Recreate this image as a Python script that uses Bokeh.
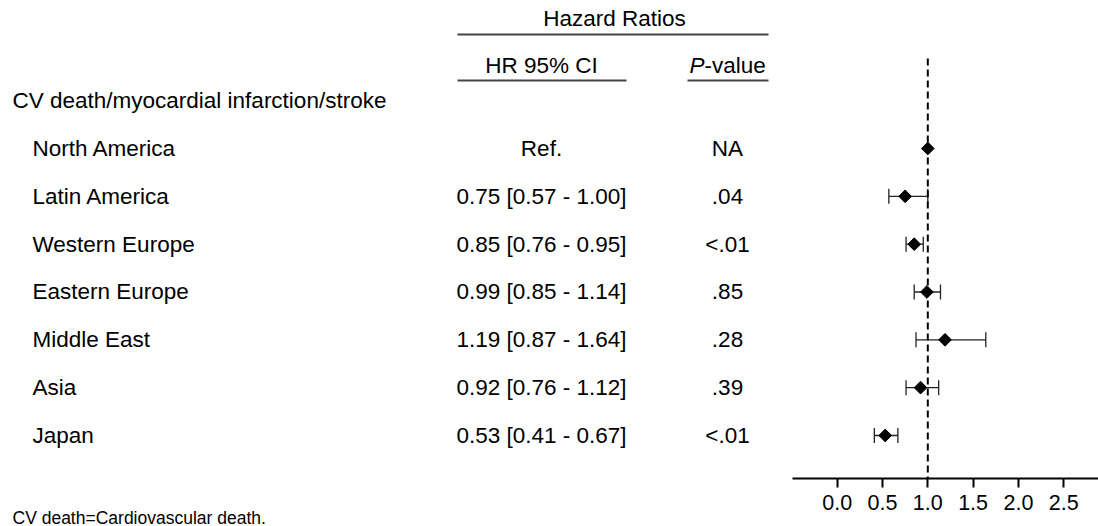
import numpy as np
from bokeh.plotting import figure
from bokeh.models import ColumnDataSource, Range1d, FixedTicker, Whisker, TeeHead
from bokeh.layouts import row
from bokeh.core.properties import value
from bokeh.embed import file_html
from bokeh.resources import INLINE

# ---------------- data ----------------
outcome = "CV death/myocardial infarction/stroke"
regions = ["North America", "Latin America", "Western Europe", "Eastern Europe",
           "Middle East", "Asia", "Japan"]
hr = [1.00, 0.75, 0.85, 0.99, 1.19, 0.92, 0.53]
ci_low = [None, 0.57, 0.76, 0.85, 0.87, 0.76, 0.41]
ci_high = [None, 1.00, 0.95, 1.14, 1.64, 1.12, 0.67]
p_values = ["NA", ".04", "<.01", ".85", ".28", ".39", "<.01"]
tick_values = [0.0, 0.5, 1.0, 1.5, 2.0, 2.5]
tick_labels = ["0.0", "0.5", "1.0", "1.5", "2.0", "2.5"]
footnote = "CV death=Cardiovascular death."

# ---------------- layout constants ----------------
FONT = value("Liberation Sans")
FS = "22.5px"
H = 526
ROW_PX = 47.83          # vertical distance between rows
FIRST_ROW_PX = 148      # pixel (from figure top) of first region row
AXIS_BOTTOM = 48        # space below plot frame of forest panel
LEFT_W = 792
RIGHT_W = 306

def y_at(px):
    """row-index coordinate for a pixel distance from figure top"""
    return 1 + (px - FIRST_ROW_PX) / ROW_PX

rows = list(range(1, len(regions) + 1))
hr_text = ["Ref." if lo is None else f"{h:.2f} [{lo:.2f} - {hi:.2f}]"
           for h, lo, hi in zip(hr, ci_low, ci_high)]

def no_align(fig):
    try:
        fig.frame_align = False
    except Exception:
        pass

# ---------------- left (table) panel ----------------
left = figure(width=LEFT_W, height=H, output_backend="svg", toolbar_location=None,
              x_range=Range1d(0, LEFT_W), y_range=Range1d(y_at(H), y_at(0)),
              min_border=0)
no_align(left)
left.axis.visible = False
left.grid.visible = False
left.outline_line_color = None
left.background_fill_color = None
left.border_fill_color = None

def put(x, y, t, align, size=FS, style="normal"):
    left.text(x=x, y=y, text=t, text_font=FONT, text_font_size=size,
              text_font_style=style, text_baseline="middle", text_align=align,
              text_color="#000000")

put([12], [y_at(100)], [outcome], "left")
put([32] * len(regions), rows, regions, "left")
put([541] * len(rows), rows, hr_text, "center")
put([727] * len(rows), rows, p_values, "center")

# headers
put([614], [y_at(18)], ["Hazard Ratios"], "center")
put([541], [y_at(65)], ["HR 95% CI"], "center")
put([704], [y_at(65)], ["P"], "right", style="italic")
put([704], [y_at(65)], ["-value"], "left")
left.segment(x0=[457, 457, 687], x1=[768, 626, 768],
             y0=[y_at(34), y_at(80), y_at(80)], y1=[y_at(34), y_at(80), y_at(80)],
             line_color="#444444", line_width=2)

put([12], [y_at(517)], [footnote], "left", size="17.5px")

# ---------------- right (forest) panel ----------------
px_per_unit = 90.6
x0_px = 836.7 - LEFT_W   # pixel of x=0 inside the panel
right = figure(width=RIGHT_W, height=H, output_backend="svg", toolbar_location=None,
               x_range=Range1d(-x0_px / px_per_unit, (RIGHT_W - x0_px) / px_per_unit),
               y_range=Range1d(y_at(H - AXIS_BOTTOM), y_at(0)),
               min_border_left=0, min_border_right=0, min_border_top=0,
               min_border_bottom=AXIS_BOTTOM)
no_align(right)
right.yaxis.visible = False
right.grid.visible = False
right.outline_line_color = None
right.background_fill_color = None
right.border_fill_color = None

xa = right.xaxis[0]
xa.ticker = FixedTicker(ticks=tick_values)
xa.major_label_overrides = {t: l for t, l in zip(tick_values, tick_labels)}
xa.axis_line_width = 2
xa.axis_line_color = "#000000"
xa.major_tick_line_width = 2
xa.major_tick_line_color = "#000000"
xa.major_tick_out = 9
xa.major_tick_in = 0
xa.minor_tick_line_color = None
xa.major_label_text_font = "Liberation Sans"
xa.major_label_text_font_size = "21.5px"
xa.major_label_text_color = "#000000"
xa.major_label_standoff = 7

# reference line at HR = 1
right.segment(x0=[1.0], x1=[1.0], y0=[y_at(58)], y1=[y_at(H - AXIS_BOTTOM)],
              line_color="#000000", line_width=2, line_dash="7 4")

# confidence intervals
ci_rows = [r for r, lo in zip(rows, ci_low) if lo is not None]
ci_src = ColumnDataSource(dict(
    y=ci_rows,
    lo=[lo for lo in ci_low if lo is not None],
    hi=[hi for hi in ci_high if hi is not None]))
whisk = Whisker(base="y", lower="lo", upper="hi", dimension="width", source=ci_src,
                line_color="#222222", line_width=1.3,
                upper_head=TeeHead(size=15, line_color="#222222", line_width=1.3),
                lower_head=TeeHead(size=15, line_color="#222222", line_width=1.3))
right.add_layout(whisk)

# point estimates
right.scatter(x=hr, y=rows, marker="square", angle=np.pi / 4, size=9,
              fill_color="#000000", line_color="#000000")

layout = row(left, right)
open("out.html", "w").write(file_html(layout, INLINE))
